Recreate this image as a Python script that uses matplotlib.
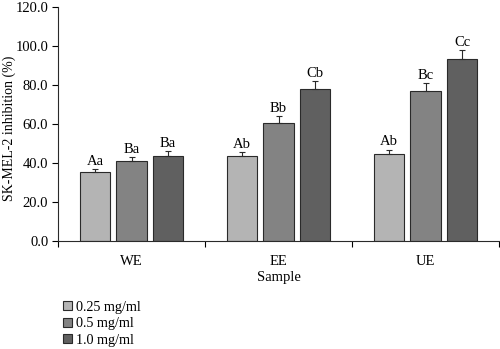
import matplotlib
matplotlib.use("Agg")
import matplotlib.pyplot as plt
from matplotlib import font_manager as fm
import numpy as np

samples = ["WE", "EE", "UE"]
series_names = ["0.25 mg/ml", "0.5 mg/ml", "1.0 mg/ml"]
values = {
    "0.25 mg/ml": [35.2, 43.7, 44.8],
    "0.5 mg/ml": [40.9, 60.8, 77.1],
    "1.0 mg/ml": [43.8, 78.0, 93.3],
}
errors = {
    "0.25 mg/ml": [1.6, 2.0, 2.1],
    "0.5 mg/ml": [2.1, 3.2, 4.1],
    "1.0 mg/ml": [2.3, 4.0, 4.6],
}
letters = {
    "0.25 mg/ml": ["Aa", "Ab", "Ab"],
    "0.5 mg/ml": ["Ba", "Bb", "Bc"],
    "1.0 mg/ml": ["Ba", "Cb", "Cc"],
}
colors = ["#b4b4b4", "#838383", "#606060"]

for f in fm.findSystemFonts():
    if "LiberationSerif" in f:
        try:
            fm.fontManager.addfont(f)
        except Exception:
            pass
plt.rcParams["font.family"] = ["Liberation Serif", "DejaVu Serif"]
FS = 10.5

fig = plt.figure(figsize=(5.0, 3.49), dpi=100)
ax = fig.add_axes([0.116, 0.309, 0.882, 0.671])

centers = np.arange(len(samples)) + 0.5
width = 0.21
offsets = [-0.248, 0.0, 0.248]
handles = []
for i, name in enumerate(series_names):
    x = centers + offsets[i]
    b = ax.bar(x, values[name], width=width, color=colors[i], edgecolor="#2a2a2a",
               linewidth=0.8, label=name, zorder=2)
    handles.append(b)
    ax.errorbar(x, values[name], yerr=[np.zeros(len(x)), errors[name]], fmt="none",
                ecolor="#2a2a2a", elinewidth=0.8, capsize=2.5, capthick=0.8, zorder=3)
    for xi, v, e, t in zip(x, values[name], errors[name], letters[name]):
        ax.text(xi, v + e + 0.6, t, ha="center", va="bottom", fontsize=FS)

ax.set_xlim(0, 3)
ax.set_ylim(0, 120)
ax.set_yticks(np.arange(0, 121, 20))
ax.set_yticklabels([f"{v:.1f}" for v in np.arange(0, 121, 20)], fontsize=FS)
ax.set_xticks([0, 1, 2, 3])
ax.set_xticklabels([])
ax.set_xticks(centers, minor=True)
ax.set_xticklabels(samples, minor=True, fontsize=FS)
ax.tick_params(axis="x", which="minor", length=0, pad=10)
ax.tick_params(axis="x", which="major", direction="out", length=4, width=0.8)
ax.tick_params(axis="y", direction="out", length=4, width=0.8, pad=3)
for s in ["top", "right"]:
    ax.spines[s].set_visible(False)
for s in ["left", "bottom"]:
    ax.spines[s].set_linewidth(0.8)
    ax.spines[s].set_color("#2a2a2a")

ax.set_xlabel("Sample", fontsize=FS, labelpad=2)
ax.set_ylabel("SK-MEL-2 inhibition (%)", fontsize=10)
ax.yaxis.set_label_coords(-0.095, 0.48)

fig.legend(handles=handles, labels=series_names, loc="upper left",
           bbox_to_anchor=(0.11, 0.163), frameon=False, fontsize=10.2,
           handlelength=0.6, handleheight=0.6, handletextpad=0.25,
           labelspacing=0.25, borderpad=0.1)

fig.savefig("out.png", dpi=100)
